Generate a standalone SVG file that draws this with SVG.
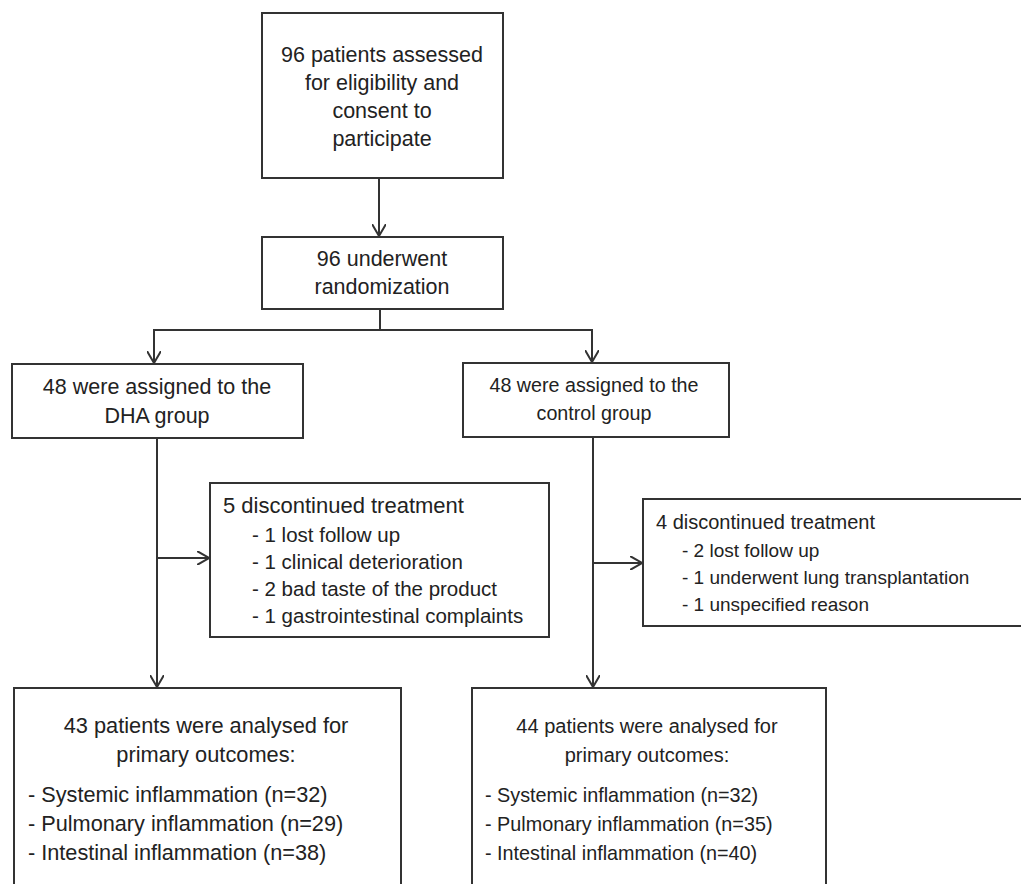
<svg xmlns="http://www.w3.org/2000/svg" width="1021" height="884" viewBox="0 0 1021 884">
<style>
.box{fill:#fff;stroke:#333;stroke-width:2}
.ln{fill:none;stroke:#333;stroke-width:2}
text{font-family:"Liberation Sans",Arial,sans-serif;fill:#222}
.c{text-anchor:middle}
</style>
<defs>
<marker id="ah" viewBox="0 0 12 14" refX="12" refY="7" markerWidth="12" markerHeight="14" markerUnits="userSpaceOnUse" orient="auto">
<path d="M0,0 L12,7 L0,14" fill="none" stroke="#333" stroke-width="2"/>
</marker>
</defs>
<rect width="1021" height="884" fill="#fff"/>
<g id="connectors">
<line class="ln" x1="379" y1="178" x2="379" y2="236" marker-end="url(#ah)"/>
<polyline class="ln" points="380,309 380,330"/>
<polyline class="ln" points="154,363 154,330 592,330 592,362" marker-end="url(#ah)"/>
<line class="ln" x1="154" y1="330" x2="154" y2="363" marker-end="url(#ah)"/>
<line class="ln" x1="157" y1="438" x2="157" y2="687" marker-end="url(#ah)"/>
<line class="ln" x1="157" y1="558" x2="209" y2="558" marker-end="url(#ah)"/>
<line class="ln" x1="593" y1="437" x2="593" y2="687" marker-end="url(#ah)"/>
<line class="ln" x1="593" y1="563" x2="642" y2="563" marker-end="url(#ah)"/>
</g>
<g id="n-assessed">
<rect class="box" x="262" y="13" width="241" height="165"/>
<text class="c" x="382" y="62" font-size="21.5">96 patients assessed</text>
<text class="c" x="382" y="90" font-size="21.5">for eligibility and</text>
<text class="c" x="382" y="118" font-size="21.5">consent to</text>
<text class="c" x="382" y="146" font-size="21.5">participate</text>
</g>
<g id="n-random">
<rect class="box" x="262" y="237" width="241" height="72"/>
<text class="c" x="382" y="266" font-size="21.5">96 underwent</text>
<text class="c" x="382" y="294" font-size="21.5">randomization</text>
</g>
<g id="n-dha">
<rect class="box" x="12" y="364" width="291" height="74"/>
<text class="c" x="157" y="394" font-size="21.5">48 were assigned to the</text>
<text class="c" x="157" y="423" font-size="21.5">DHA group</text>
</g>
<g id="n-control">
<rect class="box" x="463" y="363" width="266" height="74"/>
<text class="c" x="594" y="392" font-size="19.7">48 were assigned to the</text>
<text class="c" x="594" y="420" font-size="19.7">control group</text>
</g>
<g id="n-dha-disc">
<rect class="box" x="210" y="483" width="339" height="154"/>
<text x="223" y="513" font-size="22">5 discontinued treatment</text>
<text x="252" y="542" font-size="20.5">- 1 lost follow up</text>
<text x="252" y="569" font-size="20.5">- 1 clinical deterioration</text>
<text x="252" y="596" font-size="20.5">- 2 bad taste of the product</text>
<text x="252" y="623" font-size="20.5">- 1 gastrointestinal complaints</text>
</g>
<g id="n-control-disc">
<rect class="box" x="643" y="499" width="390" height="127"/>
<text x="656" y="529" font-size="20">4 discontinued treatment</text>
<text x="682" y="557" font-size="19">- 2 lost follow up</text>
<text x="682" y="584" font-size="19">- 1 underwent lung transplantation</text>
<text x="682" y="611" font-size="19">- 1 unspecified reason</text>
</g>
<g id="n-dha-out">
<path class="box" d="M14,890 L14,688 L401,688 L401,890"/>
<text class="c" x="206" y="733" font-size="21.8">43 patients were analysed for</text>
<text class="c" x="206" y="762" font-size="21.8">primary outcomes:</text>
<text x="28" y="802" font-size="21.7">- Systemic inflammation (n=32)</text>
<text x="28" y="831" font-size="21.7">- Pulmonary inflammation (n=29)</text>
<text x="28" y="860" font-size="21.7">- Intestinal inflammation (n=38)</text>
</g>
<g id="n-control-out">
<path class="box" d="M472,890 L472,688 L826,688 L826,890"/>
<text class="c" x="647" y="733" font-size="20">44 patients were analysed for</text>
<text class="c" x="647" y="762" font-size="20">primary outcomes:</text>
<text x="485" y="802" font-size="19.8">- Systemic inflammation (n=32)</text>
<text x="485" y="831" font-size="19.8">- Pulmonary inflammation (n=35)</text>
<text x="485" y="860" font-size="19.8">- Intestinal inflammation (n=40)</text>
</g>
</svg>
